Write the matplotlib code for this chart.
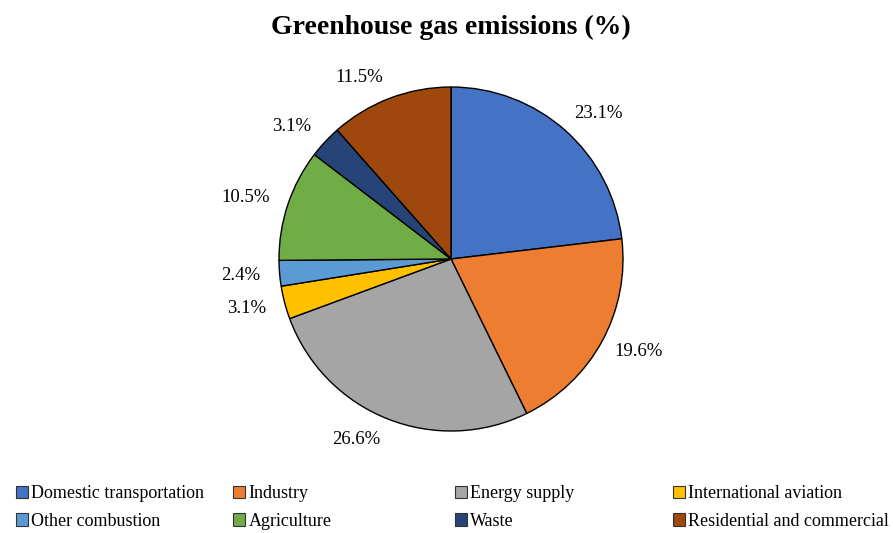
import numpy as np
import matplotlib.pyplot as plt
from matplotlib.patches import Patch

plt.rcParams['font.family'] = ['Liberation Serif', 'DejaVu Serif']

sectors = ['Domestic transportation', 'Industry', 'Energy supply', 'International aviation',
           'Other combustion', 'Agriculture', 'Waste', 'Residential and commercial']
shares = [23.1, 19.6, 26.6, 3.1, 2.4, 10.5, 3.1, 11.5]
colors = ['#4472C4', '#ED7D31', '#A5A5A5', '#FFC000', '#5B9BD5', '#70AD47', '#264478', '#9E480E']

W, H = 893, 533
fig = plt.figure(figsize=(W / 100, H / 100), dpi=100)

# pie centre and radius in pixels
cx, cy, r = 451, 259, 172
ax = fig.add_axes([(cx - r) / W, (H - cy - r) / H, 2 * r / W, 2 * r / H])
wedges, _ = ax.pie(shares, colors=colors, startangle=90, counterclock=False,
                   wedgeprops=dict(edgecolor='black', linewidth=1.0))
ax.set_xlim(-1, 1)
ax.set_ylim(-1, 1)
ax.set_aspect('equal')
ax.axis('off')

# percentage labels: box edge sits just outside the rim, pushed away from the centre
for w, v in zip(wedges, shares):
    ang = np.deg2rad((w.theta1 + w.theta2) / 2)
    c, s = np.cos(ang), np.sin(ang)
    ha = 'left' if c > 0 else 'right'
    dx = 1.08 if c > 0 else 1.11
    ax.text(dx * c, 1.13 * s, '{:.1f}%'.format(v),
            ha=ha, va='center', fontsize=13.5)

fig.text(cx / W, 1 - 27 / H, 'Greenhouse gas emissions (%)', ha='center', va='center',
         fontsize=20, fontweight='bold')

# legend: four evenly spaced columns, two rows
col_x = [16, 233, 455, 673]
for i, x in enumerate(col_x):
    handles = [Patch(facecolor=colors[j], edgecolor='#333333', linewidth=0.8) for j in (i, i + 4)]
    fig.legend(handles, [sectors[i], sectors[i + 4]], loc='upper left',
               bbox_to_anchor=(x / W, 1 - 485 / H), frameon=False, fontsize=13,
               handlelength=0.65, handleheight=0.65, handletextpad=0.2,
               labelspacing=0.6, borderaxespad=0, borderpad=0)

fig.savefig('out.png', dpi=100)
